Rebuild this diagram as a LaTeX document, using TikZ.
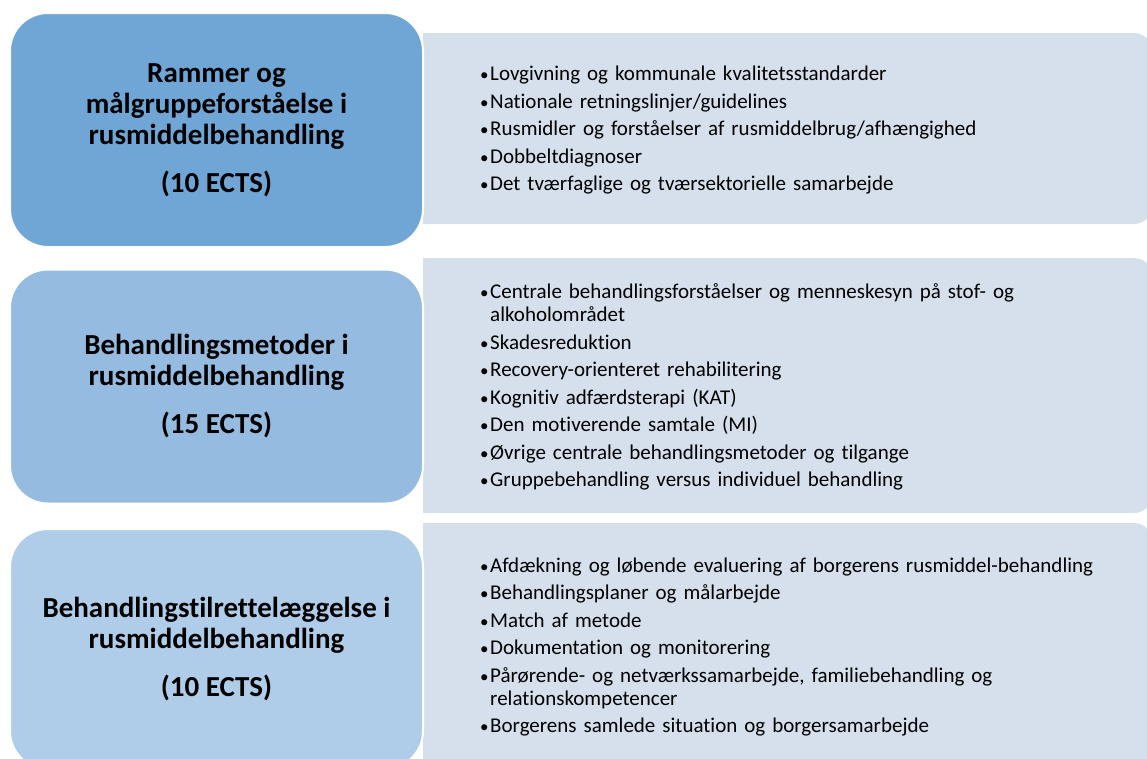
\documentclass[tikz,border=0pt]{standalone}
\usepackage{fontspec}
\setmainfont{Carlito}[Ligatures=NoCommon]
\usepackage{xcolor}

\definecolor{headA}{HTML}{6FA6D6}
\definecolor{headB}{HTML}{95BBE0}
\definecolor{headC}{HTML}{AFCDE8}
\definecolor{listbg}{HTML}{D5E0EC}

\newcommand{\topic}[1]{\par\hangindent=10pt\hangafter=1\noindent\makebox[10pt][l]{\fontsize{17}{23}\selectfont•}#1}

\tikzset{
    head/.style={rounded corners=38pt, draw=white, line width=2pt, minimum width=413pt,
        align=center, font=\fontsize{29}{31}\selectfont\bfseries},
    topics/.style={anchor=west, inner sep=0pt, text width=640pt, align=left,
        font=\fontsize{21}{23}\selectfont},
    listbox/.style={fill=listbg},
}

\begin{document}
\begin{tikzpicture}[x=1pt, y=-1pt]
    \useasboundingbox (0,0) rectangle (1147,758);

    \fill[listbox] (423,33) {[rounded corners=18pt] -- (1152,33) -- (1152,224)} -- (423,224) -- cycle;
    \fill[listbox] (423,258) {[rounded corners=18pt] -- (1152,258) -- (1152,513)} -- (423,513) -- cycle;
    \fill[listbox] (423,523) {[rounded corners=18pt] -- (1152,523) -- (1152,790)} -- (423,790) -- cycle;

    \node[head, fill=headA, minimum height=234pt] (rammer) at (216.5,130)
        {Rammer og\\ målgruppeforståelse i\\ rusmiddelbehandling\\[17pt] (10 ECTS)};
    \node[head, fill=headB, minimum height=234pt] (metoder) at (216.5,386.5)
        {Behandlingsmetoder i\\ rusmiddelbehandling\\[17pt] (15 ECTS)};
    \node[head, fill=headC, minimum height=240pt] (tilrettelaeggelse) at (216.5,649)
        {Behandlingstilrettelæggelse i\\ rusmiddelbehandling\\[17pt] (10 ECTS)};

    \node[topics] (rammerList) at (480,124) {\setlength{\parskip}{4.5pt}%
        \topic{Lovgivning og kommunale kvalitetsstandarder}
        \topic{Nationale retningslinjer/guidelines}
        \topic{Rusmidler og forståelser af rusmiddelbrug/afhængighed}
        \topic{Dobbeltdiagnoser}
        \topic{Det tværfaglige og tværsektorielle samarbejde}};

    \node[topics] (metoderList) at (480,381) {\setlength{\parskip}{4.5pt}%
        \topic{Centrale behandlingsforståelser og menneskesyn på stof- og\newline alkoholområdet}
        \topic{Skadesreduktion}
        \topic{Recovery-orienteret rehabilitering}
        \topic{Kognitiv adfærdsterapi (KAT)}
        \topic{Den motiverende samtale (MI)}
        \topic{Øvrige centrale behandlingsmetoder og tilgange}
        \topic{Gruppebehandling versus individuel behandling}};

    \node[topics] (tilrettelaeggelseList) at (480,640.5) {\setlength{\parskip}{4.5pt}%
        \topic{Afdækning og løbende evaluering af borgerens rusmiddel-behandling}
        \topic{Behandlingsplaner og målarbejde}
        \topic{Match af metode}
        \topic{Dokumentation og monitorering}
        \topic{Pårørende- og netværkssamarbejde, familiebehandling og\newline relationskompetencer}
        \topic{Borgerens samlede situation og borgersamarbejde}};
\end{tikzpicture}
\end{document}
